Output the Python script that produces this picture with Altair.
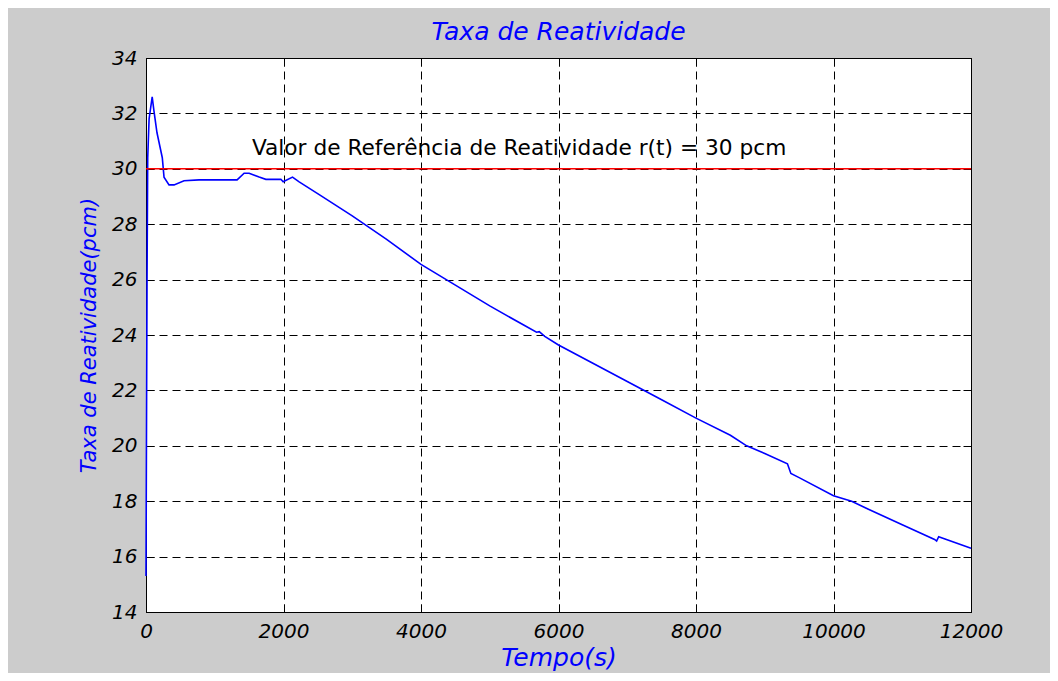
import altair as alt
import pandas as pd

# ---- data ----
tempo = [0, 5, 15, 25, 45, 90, 115, 160, 237, 262, 335, 408, 553, 772, 1325, 1427, 1500,
         1646, 1743, 1962, 1995, 2131, 2228, 2531, 3000, 3500, 4000, 4500, 5000, 5500,
         5680, 5720, 5800, 6000, 6500, 7000, 7500, 8000, 8500, 8737, 9000, 9330, 9380,
         9500, 10000, 10264, 10500, 11000, 11470, 11500, 11530, 12000]
reatividade = [15.3, 19.0, 26.0, 30.4, 31.8, 32.6, 32.1, 31.3, 30.4, 29.7, 29.42, 29.42,
               29.57, 29.6, 29.6, 29.84, 29.84, 29.7, 29.62, 29.62, 29.53, 29.7, 29.53,
               29.05, 28.3, 27.45, 26.55, 25.8, 25.05, 24.35, 24.1, 24.12, 23.95, 23.64,
               22.98, 22.32, 21.66, 21.0, 20.38, 20.0, 19.72, 19.35, 19.0, 18.85, 18.2,
               18.0, 17.72, 17.15, 16.62, 16.56, 16.72, 16.3]
valor_referencia = [30]
anotacao_texto = ["Valor de Referência de Reatividade r(t) = 30 pcm"]
anotacao_t = [1540]
anotacao_r = [30.5]
x_ticks = [0, 2000, 4000, 6000, 8000, 10000, 12000]
y_ticks = [14, 16, 18, 20, 22, 24, 26, 28, 30, 32, 34]

df = pd.DataFrame({"t": tempo, "r": reatividade})
df_ref = pd.DataFrame({"r": valor_referencia})
df_txt = pd.DataFrame({"t": anotacao_t, "r": anotacao_r, "txt": anotacao_texto})

FONT = "DejaVu Sans"
x_scale = alt.Scale(domain=[0, 12000], nice=False, zero=False)
y_scale = alt.Scale(domain=[14, 34], nice=False, zero=False)

x_axis = alt.Axis(values=x_ticks, title="Tempo(s)", format="d", grid=True,
                  gridColor="black", gridDash=[8, 5], gridOpacity=1, gridWidth=1,
                  domain=False, offset=-8, tickSize=8, tickColor="black", tickWidth=1,
                  labelPadding=9, labelFont=FONT, labelFontSize=20, labelFontStyle="italic",
                  labelColor="black", labelFlush=False, labelOverlap=False,
                  titleFont=FONT, titleFontSize=25, titleFontStyle="italic",
                  titleFontWeight="normal", titleColor="blue", titlePadding=4)
y_axis = alt.Axis(values=y_ticks, title="Taxa de Reatividade(pcm)", format="d", grid=True,
                  gridColor="black", gridDash=[8, 5], gridOpacity=1, gridWidth=1,
                  domain=False, offset=-8, tickSize=8, tickColor="black", tickWidth=1,
                  labelPadding=9, labelFont=FONT, labelFontSize=20, labelFontStyle="italic",
                  labelColor="black", labelFlush=False, labelOverlap=False,
                  titleFont=FONT, titleFontSize=21, titleFontStyle="italic",
                  titleFontWeight="normal", titleColor="blue", titlePadding=12)
x_axis_top = alt.Axis(values=x_ticks, orient="top", title=None, labels=False, grid=False,
                      domain=False, offset=-8, tickSize=8, tickColor="black")
y_axis_right = alt.Axis(values=y_ticks, orient="right", title=None, labels=False, grid=False,
                        domain=False, offset=-8, tickSize=8, tickColor="black")

linha = alt.Chart(df).mark_line(color="#0000ff", strokeWidth=1.6).encode(
    x=alt.X("t:Q", scale=x_scale, axis=x_axis),
    y=alt.Y("r:Q", scale=y_scale, axis=y_axis),
    order="t:Q",
)

regra = alt.Chart(df_ref).mark_rule(color="#ff0000", strokeWidth=1.5).encode(
    y=alt.Y("r:Q", scale=y_scale, axis=None),
)

texto = alt.Chart(df_txt).mark_text(font=FONT, fontSize=21.7, color="black", align="left",
                                    baseline="alphabetic").encode(
    x=alt.X("t:Q", scale=x_scale, axis=x_axis_top),
    y=alt.Y("r:Q", scale=y_scale, axis=y_axis_right),
    text="txt:N",
)

chart = alt.layer(linha, regra, texto).resolve_axis(
    x="independent", y="independent"
).properties(
    width=825, height=554,
    autosize=alt.AutoSizeParams(type="none"),
    padding={"left": 138, "top": 50, "right": 79, "bottom": 61},
    title=alt.TitleParams("Taxa de Reatividade", font=FONT, fontSize=25, fontStyle="italic",
                          fontWeight="normal", color="blue", offset=3, anchor="middle"),
).configure(background="#cccccc").configure_view(fill="white", stroke="black", strokeWidth=1)

chart.save("out.html", embed_options={"renderer": "svg", "actions": False})
